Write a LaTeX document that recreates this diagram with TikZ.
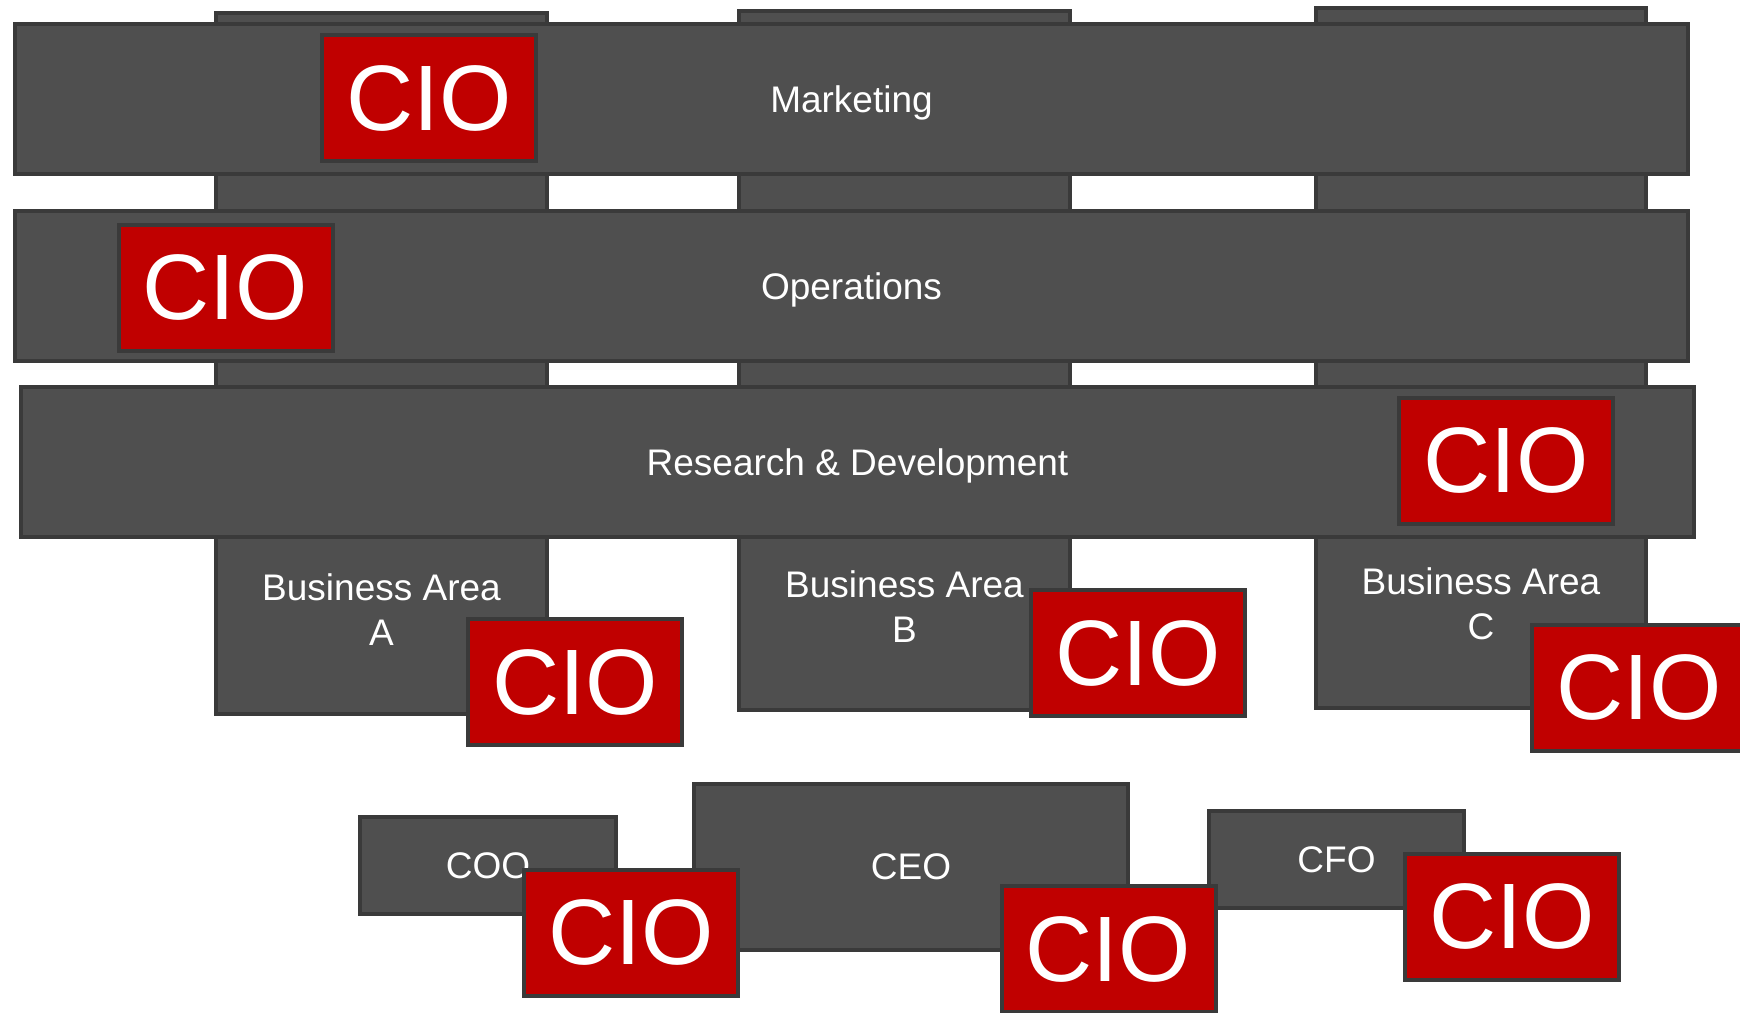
\documentclass[tikz,border=0pt]{standalone}
\usepackage{fontspec}
\setmainfont{Liberation Sans}
\usetikzlibrary{positioning}
\definecolor{boxgray}{RGB}{79,79,79}
\definecolor{edgegray}{RGB}{58,58,58}
\definecolor{cioRed}{RGB}{192,0,0}
\tikzset{
  unit/.style={draw=edgegray,fill=boxgray,line width=4pt,text=white,inner sep=0pt,
    font=\fontsize{37}{45}\selectfont,align=center,text depth=0pt},
  cio/.style={draw=edgegray,fill=cioRed,line width=4pt,text=white,inner sep=0pt,
    minimum width=214pt,minimum height=126pt,font=\fontsize{93}{93}\selectfont},
  lbl/.style={text=white,inner sep=0pt,font=\fontsize{37}{45}\selectfont,align=center}
}

\begin{document}
\begin{tikzpicture}[x=1pt,y=-1pt]
\useasboundingbox (0,0) rectangle (1740,1012);
% Columns
\node[unit,minimum width=331pt,minimum height=701pt] (colA) at (381.5,363.5) {}; % area A
\node[unit,minimum width=331pt,minimum height=699pt] (colB) at (904.5,360.5) {}; % area B
\node[unit,minimum width=330pt,minimum height=700pt] (colC) at (1481,358) {}; % area C
% Bars
\node[unit,minimum width=1673pt,minimum height=150pt] (mkt) at (851.5,99) {Marketing};
\node[unit,minimum width=1673pt,minimum height=150pt] (ops) at (851.5,286) {Operations};
\node[unit,minimum width=1673pt,minimum height=150pt] (rnd) at (857.5,462) {Research \& Development};
% Labels
\node[lbl] (txtA) at (381.5,610) {Business Area\\A};
\node[lbl] (txtB) at (904.5,607) {Business Area\\B};
\node[lbl] (txtC) at (1481,604) {Business Area\\C};
% Officers
\node[unit,minimum width=256pt,minimum height=97pt] (coo) at (488,865.5) {COO};
\node[unit,minimum width=434pt,minimum height=166pt] (ceo) at (911,867) {CEO};
\node[unit,minimum width=255pt,minimum height=97pt] (cfo) at (1336.5,859.5) {CFO};
% CIOs
\node[cio] (cioMkt) at (429,98) {CIO};
\node[cio] (cioOps) at (225.5,287.5) {CIO};
\node[cio] (cioRnd) at (1506,460.5) {CIO};
\node[cio] (cioA) at (575,682) {CIO};
\node[cio] (cioB) at (1138,653) {CIO};
\node[cio] (cioC) at (1639,687.5) {CIO};
\node[cio] (cioCoo) at (631,932.5) {CIO};
\node[cio] (cioCeo) at (1108.5,949) {CIO};
\node[cio] (cioCfo) at (1512,916.5) {CIO};
\end{tikzpicture}
\end{document}
